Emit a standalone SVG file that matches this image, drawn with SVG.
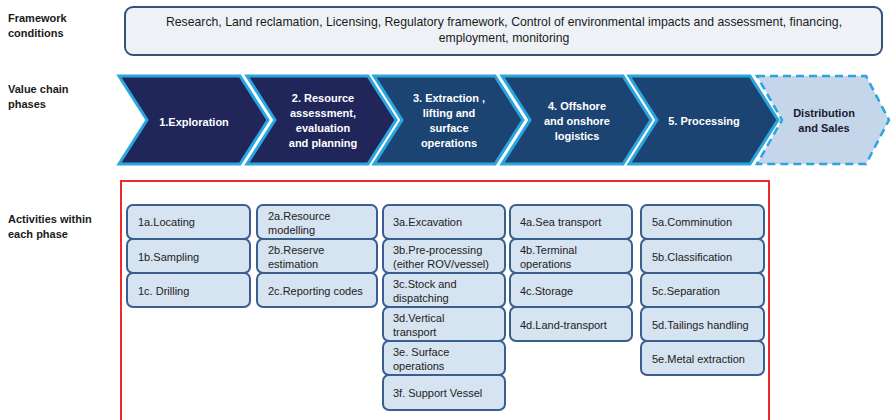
<svg xmlns="http://www.w3.org/2000/svg" width="891" height="420" viewBox="0 0 891 420">
<style>
.lbl{font-family:"Liberation Sans",Arial,sans-serif;font-size:11px;font-weight:bold;fill:#1a1a1a}
.fw{fill:#eef2f6;stroke:#34527a;stroke-width:2}
.fwt{font-family:"Liberation Sans",Arial,sans-serif;font-size:12.25px;fill:#1a1a1a;text-anchor:middle}
.chA{fill:#20265a;stroke:#2aa5de;stroke-width:3;stroke-linejoin:miter}
.chB{fill:#1b4473;stroke:#2aa5de;stroke-width:3;stroke-linejoin:miter}
.chD{fill:#c5d6ea;stroke:#2aa5de;stroke-width:2.5;stroke-dasharray:8,5}
.cht{font-family:"Liberation Sans",Arial,sans-serif;font-size:11px;font-weight:bold;fill:#ffffff;text-anchor:middle}
.chtd{font-family:"Liberation Sans",Arial,sans-serif;font-size:11px;font-weight:bold;fill:#1a1a2e;text-anchor:middle}
.box{fill:#d6e3f0;stroke:#3a5f8f;stroke-width:2}
.bt{font-family:"Liberation Sans",Arial,sans-serif;font-size:11px;fill:#222222}
</style>
<rect width="891" height="420" fill="#ffffff"/>
<g id="labels">
<text class="lbl" x="8" y="22">Framework</text>
<text class="lbl" x="8" y="37">conditions</text>
<text class="lbl" x="8" y="93">Value chain</text>
<text class="lbl" x="8" y="108">phases</text>
<text class="lbl" x="8" y="223">Activities within</text>
<text class="lbl" x="8" y="238">each phase</text>
</g>
<g id="framework">
<rect class="fw" x="125" y="7" width="757" height="48" rx="8"/>
<text class="fwt" x="504" y="26">Research, Land reclamation, Licensing, Regulatory framework, Control of environmental impacts and assessment, financing,</text>
<text class="fwt" x="504" y="42">employment, monitoring</text>
</g>
<g id="phase1">
<polygon class="chA" points="119,76 240,76 268,120 240,164 119,164 147,120"/>
<text class="cht" x="194" y="126">1.Exploration</text>
</g>
<g id="phase2">
<polygon class="chA" points="247,76 368,76 396,120 368,164 247,164 275,120"/>
<text class="cht" x="323" y="102">2. Resource</text>
<text class="cht" x="323" y="117">assessment,</text>
<text class="cht" x="323" y="132">evaluation</text>
<text class="cht" x="323" y="147">and planning</text>
</g>
<g id="phase3">
<polygon class="chB" points="374,76 495,76 523,120 495,164 374,164 402,120"/>
<text class="cht" x="449" y="102">3. Extraction ,</text>
<text class="cht" x="449" y="117">lifting and</text>
<text class="cht" x="449" y="132">surface</text>
<text class="cht" x="449" y="147">operations</text>
</g>
<g id="phase4">
<polygon class="chB" points="502,76 623,76 651,120 623,164 502,164 530,120"/>
<text class="cht" x="577" y="110">4. Offshore</text>
<text class="cht" x="577" y="125">and onshore</text>
<text class="cht" x="577" y="140">logistics</text>
</g>
<g id="phase5">
<polygon class="chB" points="629,76 750,76 778,120 750,164 629,164 657,120"/>
<text class="cht" x="704" y="125">5. Processing</text>
</g>
<g id="distribution">
<polygon class="chD" points="757,76 866,76 889,120 866,164 757,164 782,120"/>
<text class="chtd" x="824" y="117">Distribution</text>
<text class="chtd" x="824" y="132">and Sales</text>
</g>
<g id="activities-frame">
<rect x="121" y="181" width="648" height="245" fill="none" stroke="#ee2a2a" stroke-width="2"/>
</g>
<g id="col1">
<g id="a1a"><rect class="box" x="127" y="205" width="123" height="34" rx="6"/><text class="bt" x="138" y="226">1a.Locating</text></g>
<g id="a1b"><rect class="box" x="127" y="239" width="123" height="34" rx="6"/><text class="bt" x="138" y="261">1b.Sampling</text></g>
<g id="a1c"><rect class="box" x="127" y="273" width="123" height="34" rx="6"/><text class="bt" x="138" y="295">1c. Drilling</text></g>
</g>
<g id="col2">
<g id="a2a"><rect class="box" x="257" y="205" width="120" height="34" rx="6"/><text class="bt" x="268" y="220">2a.Resource</text><text class="bt" x="268" y="234">modelling</text></g>
<g id="a2b"><rect class="box" x="257" y="239" width="120" height="34" rx="6"/><text class="bt" x="268" y="254">2b.Reserve</text><text class="bt" x="268" y="268">estimation</text></g>
<g id="a2c"><rect class="box" x="257" y="273" width="120" height="34" rx="6"/><text class="bt" x="268" y="295">2c.Reporting codes</text></g>
</g>
<g id="col3">
<g id="a3a"><rect class="box" x="383" y="205" width="122" height="34" rx="6"/><text class="bt" x="393" y="226">3a.Excavation</text></g>
<g id="a3b"><rect class="box" x="383" y="239" width="122" height="34" rx="6"/><text class="bt" x="393" y="254">3b.Pre-processing</text><text class="bt" x="393" y="268">(either ROV/vessel)</text></g>
<g id="a3c"><rect class="box" x="383" y="273" width="122" height="34" rx="6"/><text class="bt" x="393" y="288">3c.Stock and</text><text class="bt" x="393" y="302">dispatching</text></g>
<g id="a3d"><rect class="box" x="383" y="307" width="122" height="34" rx="6"/><text class="bt" x="393" y="322">3d.Vertical</text><text class="bt" x="393" y="336">transport</text></g>
<g id="a3e"><rect class="box" x="383" y="341" width="122" height="34" rx="6"/><text class="bt" x="393" y="356">3e. Surface</text><text class="bt" x="393" y="370">operations</text></g>
<g id="a3f"><rect class="box" x="383" y="375" width="122" height="35" rx="6"/><text class="bt" x="393" y="397">3f. Support Vessel</text></g>
</g>
<g id="col4">
<g id="a4a"><rect class="box" x="510" y="205" width="122" height="34" rx="6"/><text class="bt" x="520" y="226">4a.Sea transport</text></g>
<g id="a4b"><rect class="box" x="510" y="239" width="122" height="34" rx="6"/><text class="bt" x="520" y="254">4b.Terminal</text><text class="bt" x="520" y="268">operations</text></g>
<g id="a4c"><rect class="box" x="510" y="273" width="122" height="34" rx="6"/><text class="bt" x="520" y="295">4c.Storage</text></g>
<g id="a4d"><rect class="box" x="510" y="307" width="122" height="34" rx="6"/><text class="bt" x="520" y="329">4d.Land-transport</text></g>
</g>
<g id="col5">
<g id="a5a"><rect class="box" x="641" y="205" width="123" height="34" rx="6"/><text class="bt" x="652" y="226">5a.Comminution</text></g>
<g id="a5b"><rect class="box" x="641" y="239" width="123" height="34" rx="6"/><text class="bt" x="652" y="261">5b.Classification</text></g>
<g id="a5c"><rect class="box" x="641" y="273" width="123" height="34" rx="6"/><text class="bt" x="652" y="295">5c.Separation</text></g>
<g id="a5d"><rect class="box" x="641" y="307" width="123" height="34" rx="6"/><text class="bt" x="652" y="329">5d.Tailings handling</text></g>
<g id="a5e"><rect class="box" x="641" y="341" width="123" height="34" rx="6"/><text class="bt" x="652" y="363">5e.Metal extraction</text></g>
</g>
<g id="connectors"></g>
</svg>
